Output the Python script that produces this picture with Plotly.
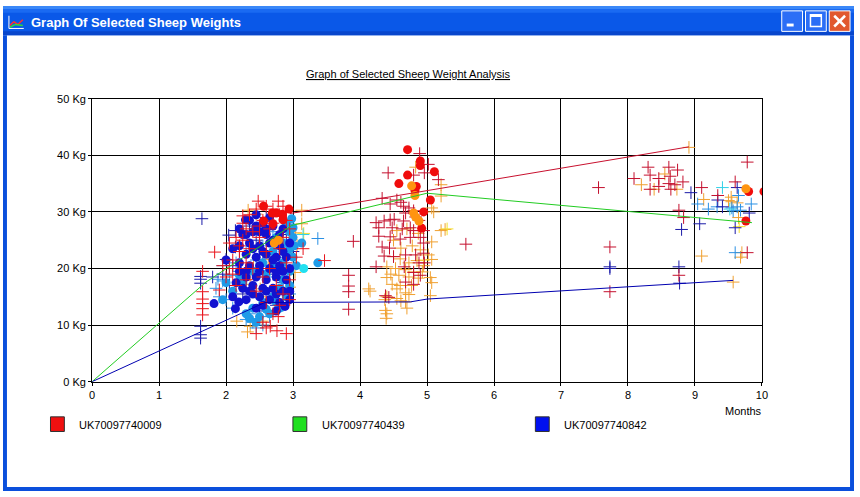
import plotly.graph_objects as go

# ---- data (months, kg) ----
red_line_x = [2.95, 8.91]
red_line_y = [29.7, 41.5]
green_line_x = [0, 1.7, 2.98, 5.0, 9.85]
green_line_y = [0, 17.6, 27.6, 33.3, 28.1]
blue_line_x = [0, 2.58, 4.75, 5.0, 9.57]
blue_line_y = [0, 14.0, 14.1, 14.6, 17.9]

red_cross = [(1.65, 19.5), (1.65, 14.6), (1.65, 13.8), (1.65, 12.9), (1.65, 11.8), (1.65, 15.9),
             (1.83, 22.9), (1.9, 16.2), (1.95, 20.5), (2.05, 20.0), (2.1, 21.5), (2.05, 24.5),
             (2.15, 25.5), (2.2, 23.0), (2.25, 25.0), (2.25, 28.0), (2.25, 29.3), (2.3, 27.0),
             (2.35, 29.5), (2.45, 30.5), (2.48, 31.9), (2.6, 31.0), (2.7, 30.5), (2.78, 31.9),
             (2.85, 31.0), (2.9, 30.0), (2.4, 26.5), (2.5, 27.5), (2.55, 28.5), (2.65, 27.0),
             (2.7, 28.0), (2.8, 29.5), (2.9, 28.5), (2.95, 27.0), (2.2, 24.0), (2.3, 21.0),
             (2.1, 19.0), (2.0, 18.5), (2.15, 17.0), (2.3, 18.0), (2.45, 16.0), (2.55, 18.5),
             (2.65, 20.0), (2.75, 17.0), (2.85, 15.5), (2.95, 18.0), (2.7, 12.0), (2.78, 11.5),
             (2.66, 9.8), (2.76, 9.0), (2.55, 10.5), (2.45, 8.5), (2.6, 9.5), (3.05, 22.0),
             (2.35, 23.5), (2.5, 25.5), (2.6, 23.0), (2.8, 23.5), (2.85, 25.5), (2.9, 21.0),
             (2.4, 20.0), (2.2, 20.0), (2.6, 14.0), (2.8, 13.5), (3.15, 23.5), (2.95, 14.5),
             (3.47, 21.4), (2.9, 8.5)]

crimson_cross = [(3.83, 18.8), (3.83, 16.9), (3.83, 15.9), (3.83, 12.8), (3.9, 24.8),
                 (4.89, 40.3), (5.02, 38.4), (4.42, 36.9), (4.80, 36.5), (4.96, 36.9), (5.17, 35.7),
                 (4.33, 32.4), (4.45, 31.4), (4.55, 32.1), (4.61, 31.7), (4.65, 31.0), (4.73, 30.7),
                 (4.80, 30.2), (4.68, 29.8), (4.83, 29.1), (4.88, 28.5), (4.24, 28.1), (4.36, 28.4),
                 (4.45, 28.6), (4.51, 28.7), (4.28, 27.2), (4.48, 27.2), (4.65, 28.4), (4.63, 27.0),
                 (4.75, 27.2), (4.80, 26.7), (4.95, 26.7), (4.28, 25.7), (4.45, 25.6), (4.60, 25.2),
                 (4.75, 25.5), (4.90, 25.5), (4.95, 24.5), (4.33, 23.8), (4.44, 23.6), (4.50, 22.1),
                 (4.68, 22.4), (4.83, 22.4), (4.95, 22.7), (4.36, 22.2), (4.24, 20.3), (4.66, 20.3),
                 (4.88, 21.0), (4.96, 21.0), (4.80, 19.3), (4.90, 18.8), (4.68, 17.6), (4.80, 17.2),
                 (4.38, 15.2), (4.43, 14.9), (5.58, 24.3),
                 (9.78, 38.8), (8.30, 37.9), (8.61, 37.9), (8.74, 37.4), (8.33, 36.5), (8.46, 35.9),
                 (8.63, 36.3), (8.09, 35.9), (8.82, 35.3), (8.61, 35.0), (8.70, 34.8), (9.10, 34.3),
                 (9.60, 35.3), (8.33, 34.0), (8.46, 34.5), (8.64, 34.0), (7.56, 34.3), (9.34, 32.9),
                 (8.76, 30.3), (8.83, 29.0), (7.73, 23.8), (8.76, 18.8), (9.78, 22.8), (7.73, 15.9)]

orange_cross = [(2.33, 30.3), (2.45, 29.6), (3.13, 30.3), (3.13, 27.9), (3.04, 26.3), (2.29, 17.2),
                (2.36, 18.1), (2.51, 16.4), (2.95, 16.7), (2.56, 15.0), (2.16, 10.7), (2.32, 8.8),
                (2.36, 9.8), (2.54, 10.7), (2.50, 21.6), (2.63, 21.6), (2.41, 20.2), (2.95, 24.0),
                (2.91, 22.6), (3.06, 24.1), (3.03, 19.3),
                (4.55, 26.7), (4.70, 27.0), (4.87, 26.2), (5.07, 24.7), (5.21, 26.7), (4.50, 25.0),
                (4.61, 23.6), (4.78, 24.0), (4.90, 23.3), (5.02, 22.4), (5.07, 21.6), (4.50, 22.1),
                (4.60, 21.7), (4.73, 21.0), (4.85, 21.4), (4.40, 20.3), (4.53, 20.0), (4.68, 19.8),
                (4.80, 19.4), (4.93, 19.4), (4.46, 19.0), (4.58, 18.8), (4.73, 18.5), (4.87, 18.3),
                (4.40, 18.4), (4.48, 17.2), (4.60, 17.0), (4.77, 17.0), (4.55, 16.4), (4.68, 15.7),
                (4.13, 16.4), (4.40, 15.0), (4.55, 14.7), (4.73, 15.4), (5.05, 15.2), (4.68, 14.1),
                (4.38, 12.6), (4.70, 13.0), (5.05, 18.4), (5.07, 17.5), (4.95, 20.5), (4.83, 37.9),
                (5.21, 34.8), (5.21, 32.8), (5.07, 30.7), (5.10, 30.0), (5.27, 26.9), (4.15, 16.0),
                (4.37, 14.5), (4.61, 14.3), (4.40, 12.0), (4.39, 11.2),
                (8.91, 41.4), (8.55, 36.7), (8.20, 34.8), (8.39, 34.0), (8.73, 34.0), (9.13, 32.2),
                (9.54, 32.6), (9.50, 32.0), (9.55, 31.8), (9.63, 31.6), (9.65, 29.0), (9.10, 22.2),
                (9.70, 22.8), (9.68, 22.0), (9.57, 17.6)]

yellow_cross = [(3.16, 26.2), (2.75, 19.5), (5.30, 27.0), (9.66, 27.4), (4.95, 21.5)]

navy_cross = [(1.64, 28.8), (1.62, 18.6), (1.62, 18.1), (1.62, 17.4), (1.62, 9.8), (1.62, 8.3),
              (1.62, 7.7), (2.04, 25.9), (2.14, 26.7), (2.14, 23.8), (2.0, 21.6), (2.1, 20.5),
              (2.2, 23.0), (2.35, 27.5), (2.45, 25.0), (2.55, 22.5), (2.7, 19.0), (2.85, 17.5),
              (2.75, 13.5), (2.5, 12.5), (2.25, 15.5), (2.05, 17.0), (1.8, 18.5), (1.95, 19.0),
              (2.9, 26.0), (2.6, 29.0), (3.0, 23.0),
              (8.94, 33.4), (9.63, 34.3), (9.34, 32.1), (9.41, 30.9), (9.81, 29.8), (9.07, 27.9),
              (8.80, 26.9), (9.60, 27.2), (7.73, 20.3), (7.73, 20.0), (8.76, 20.3), (8.77, 17.4)]

sky_cross = [(3.37, 25.3), (1.95, 17.8), (1.88, 18.1), (2.19, 17.6), (1.85, 16.5), (1.9, 15.0),
             (2.0, 14.5), (2.1, 13.0), (2.3, 11.0), (2.4, 10.5), (2.45, 9.5), (2.35, 12.0),
             (2.55, 10.0), (2.65, 11.5), (2.85, 13.5), (2.95, 15.5), (2.6, 18.5), (2.75, 20.0),
             (2.45, 21.5), (2.3, 23.0), (2.55, 24.0), (2.7, 26.5), (2.8, 22.0), (2.2, 19.5),
             (2.05, 18.8), (1.95, 20.5), (2.15, 21.0),
             (9.04, 31.4), (9.20, 30.5), (9.33, 30.9), (9.55, 30.7), (9.63, 30.9), (9.68, 30.3),
             (9.84, 31.4), (9.60, 22.8), (9.65, 32.9), (9.57, 30.2)]

cyan_cross = [(9.41, 34.3), (9.52, 30.5), (3.15, 26.0)]

blue_dot = [(2.35, 28.5), (2.55, 28.0), (2.7, 27.5), (2.25, 26.0), (2.4, 26.5), (2.6, 26.0),
            (2.8, 26.0), (2.2, 24.0), (2.35, 24.5), (2.5, 24.0), (2.65, 24.5), (2.8, 24.0),
            (2.95, 24.5), (2.3, 22.5), (2.45, 22.0), (2.6, 22.5), (2.75, 22.0), (2.9, 22.0),
            (2.2, 21.0), (2.35, 20.5), (2.5, 20.5), (2.65, 20.0), (2.8, 20.5), (2.95, 20.0),
            (2.3, 18.5), (2.45, 18.5), (2.6, 18.0), (2.75, 18.5), (2.9, 18.0), (2.25, 16.5),
            (2.4, 17.0), (2.55, 16.5), (2.7, 16.5), (2.85, 16.0), (2.1, 15.0), (2.3, 14.5),
            (2.5, 15.0), (2.65, 14.5), (2.8, 14.0), (2.95, 14.5), (2.88, 13.3), (2.75, 12.5),
            (2.19, 14.1), (2.14, 12.9), (1.82, 13.8), (2.45, 13.0), (2.6, 27.0), (2.5, 26.5),
            (2.0, 21.5), (2.1, 23.5), (2.29, 28.6),
            (2.3, 26.0), (2.45, 27.5), (2.85, 27.0), (2.4, 23.5), (2.55, 23.0), (2.7, 25.0),
            (2.85, 23.0), (2.3, 19.5), (2.5, 19.5), (2.7, 21.5), (2.85, 19.5), (2.4, 15.5),
            (2.6, 16.0), (2.75, 15.5), (2.35, 16.0), (2.55, 13.5), (2.2, 19.5), (2.15, 17.5),
            (2.95, 16.0), (2.65, 29.0), (2.45, 29.5), (2.2, 27.0), (2.75, 19.5)]

light_blue_dot = [(2.9, 28.0), (2.95, 26.5), (3.0, 25.5), (2.95, 23.5), (3.0, 22.0), (2.85, 21.0),
                  (2.95, 19.5), (2.85, 18.0), (2.95, 17.0), (2.8, 16.5), (2.7, 15.0), (2.55, 14.0),
                  (2.4, 13.0), (2.3, 12.0), (2.5, 11.5), (2.65, 12.0), (2.45, 10.5), (2.1, 16.0),
                  (2.0, 17.5), (2.25, 17.5), (2.4, 19.5), (2.55, 21.0), (2.7, 23.0), (2.75, 25.5),
                  (2.6, 19.0), (2.7, 20.5), (2.2, 18.8), (3.37, 21.0), (3.13, 24.5), (3.0, 27.2),
                  (2.85, 24.5), (2.9, 22.5), (1.95, 14.5),
                  (2.98, 28.8), (3.02, 24.0), (2.9, 15.0), (2.6, 12.8), (2.35, 11.2), (2.8, 13.0),
                  (3.05, 20.5), (2.75, 14.0)]

cyan_dot = [(3.16, 20.0)]

red_dot = [(2.56, 31.0), (2.69, 29.8), (2.75, 29.8), (2.94, 30.5), (2.84, 29.6), (2.56, 28.4),
           (2.85, 28.6), (2.70, 27.9),
           (4.71, 41.0), (4.90, 39.0), (4.90, 38.2), (5.11, 37.1), (4.71, 36.5), (4.58, 35.0),
           (4.84, 34.5), (4.82, 33.8), (5.05, 32.1), (4.95, 30.0), (4.92, 27.1),
           (9.80, 33.6), (10.03, 33.6), (9.76, 28.4)]

orange_dot = [(2.78, 25.0), (2.72, 24.5), (4.77, 34.6), (4.82, 32.9), (4.80, 29.8), (4.83, 29.1),
              (4.88, 28.4), (9.76, 34.1)]

legend_names = ["UK70097740009", "UK70097740439", "UK70097740842"]
legend_colors = ["#f01010", "#20e020", "#0010f0"]

W, H = 860, 497


def px(x):
    return x / W


def py(y):
    return 1 - y / H


fig = go.Figure()


def dots(pts, color):
    fig.add_trace(go.Scatter(x=[p[0] for p in pts], y=[p[1] for p in pts], mode="markers",
                             marker=dict(symbol="circle", size=9, color=color, line=dict(width=0)),
                             hoverinfo="skip"))


def crosses(pts, color):
    fig.add_trace(go.Scatter(x=[p[0] for p in pts], y=[p[1] for p in pts], mode="markers",
                             marker=dict(symbol="cross-thin", size=9, color=color,
                                         line=dict(width=1, color=color)),
                             hoverinfo="skip"))


crosses(orange_cross, "#f0a030")
crosses(yellow_cross, "#f4e030")
crosses(sky_cross, "#2a90e4")
crosses(cyan_cross, "#30d0e8")
crosses(navy_cross, "#1a1aa8")
crosses(crimson_cross, "#c4102e")
dots(light_blue_dot, "#1e9be8")
dots(blue_dot, "#1212d0")
dots(cyan_dot, "#22e0f0")
crosses(red_cross, "#e8141c")
dots(red_dot, "#f00c0c")
dots(orange_dot, "#ff9410")

fig.add_trace(go.Scatter(x=red_line_x, y=red_line_y, mode="lines", line=dict(color="#c8102e", width=1)))
fig.add_trace(go.Scatter(x=green_line_x, y=green_line_y, mode="lines", line=dict(color="#22cc22", width=1)))
fig.add_trace(go.Scatter(x=blue_line_x, y=blue_line_y, mode="lines", line=dict(color="#0000b0", width=1)))

# ---- window frame ----
shapes = []
ann = []


def rect(x0, y0, x1, y1, fill, line=None, lw=0):
    shapes.append(dict(type="rect", xref="paper", yref="paper", x0=px(x0), x1=px(x1),
                       y0=py(y0), y1=py(y1), fillcolor=fill,
                       line=dict(color=line or fill, width=lw)))


def seg(x0, y0, x1, y1, color, w=1):
    shapes.append(dict(type="line", xref="paper", yref="paper", x0=px(x0), x1=px(x1),
                       y0=py(y0), y1=py(y1), line=dict(color=color, width=w)))


rect(0, 0, W, 30, "#0a58e8")
rect(0, 0, W, 3, "#3a88f8")
rect(0, 3, W, 7, "#1a6af2")
rect(0, 26, W, 30, "#0846cc")
rect(0, 30, 4, H, "#0a4fdc")
rect(W - 4, 30, W, H, "#0a4fdc")
rect(0, H - 4, W, H, "#0a4fdc")

# buttons
rect(787, 5, 808, 26, "#2b6ef6", "#ffffff", 1)
rect(811, 5, 832, 26, "#2b6ef6", "#ffffff", 1)
rect(835, 5, 856, 26, "#e1582e", "#ffffff", 1)
rect(792, 18, 799, 21, "#ffffff")
rect(816, 9, 827, 21, "rgba(0,0,0,0)", "#ffffff", 1.5)
seg(816, 10, 827, 10, "#ffffff", 2.5)
seg(840, 10, 851, 21, "#ffffff", 2.5)
seg(851, 10, 840, 21, "#ffffff", 2.5)

# icon
seg(6, 10, 6, 23, "#ffffff", 1)
seg(6, 23, 21, 23, "#ffffff", 1)
seg(7, 20, 11, 16, "#ff3030", 1.5)
seg(11, 16, 15, 19, "#ff3030", 1.5)
seg(15, 19, 20, 14, "#ff3030", 1.5)
seg(7, 22, 12, 19, "#30e030", 1.5)
seg(12, 19, 20, 20, "#30e030", 1.5)

ann.append(dict(x=px(26), y=py(17), xref="paper", yref="paper", xanchor="left", yanchor="middle",
                text="Graph Of Selected Sheep Weights", showarrow=False,
                font=dict(family="Liberation Sans", size=13, color="#ffffff", weight="bold")))

ann.append(dict(x=px(410), y=py(70), xref="paper", yref="paper", xanchor="center", yanchor="middle",
                text="<u>Graph of Selected Sheep Weight Analysis</u>", showarrow=False,
                font=dict(family="Liberation Sans", size=11, color="#000000")))

ann.append(dict(x=px(769), y=py(415), xref="paper", yref="paper", xanchor="right", yanchor="middle",
                text="Months", showarrow=False,
                font=dict(family="Liberation Sans", size=11, color="#000000")))

# legend
for i, (name, col) in enumerate(zip(legend_names, legend_colors)):
    lx = 48 + i * 245
    rect(lx, 421, lx + 14, 436, col, "#303030", 1)
    ann.append(dict(x=px(lx + 27), y=py(429), xref="paper", yref="paper", xanchor="left",
                    yanchor="middle", text=name, showarrow=False,
                    font=dict(family="Liberation Sans", size=11, color="#000000")))

fig.update_layout(
    autosize=True, margin=dict(l=0, r=0, t=0, b=0),
    paper_bgcolor="#ffffff", plot_bgcolor="#ffffff", showlegend=False,
    shapes=shapes, annotations=ann,
    font=dict(family="Liberation Sans", size=11, color="#000000"),
    xaxis=dict(domain=[px(90), px(767)], range=[0, 10], dtick=1, tick0=0,
               showgrid=True, gridcolor="#000000", gridwidth=1,
               showline=True, linecolor="#000000", linewidth=1, mirror=True,
               zeroline=False, ticks="outside", ticklen=3, tickcolor="#000000",
               tickfont=dict(size=11, color="#000000")),
    yaxis=dict(domain=[py(385), py(95)], range=[0, 50], dtick=10, tick0=0,
               ticksuffix=" Kg", showgrid=True, gridcolor="#000000", gridwidth=1,
               showline=True, linecolor="#000000", linewidth=1, mirror=True,
               zeroline=False, ticks="outside", ticklen=3, tickcolor="#000000",
               tickfont=dict(size=11, color="#000000")),
)

# pin the figure to the whole window so it fills the photograph
pin = ("document.documentElement.style.margin='0';document.body.style.margin='0';"
       "document.body.style.padding='0';document.body.style.overflow='hidden';"
       "var d=document.getElementById('{plot_id}');"
       "d.style.position='fixed';d.style.left='0px';d.style.top='0px';"
       "d.style.width='100vw';d.style.height='100vh';"
       "Plotly.Plots.resize(d);")

fig.write_html("out.html", config={"displayModeBar": False, "responsive": True},
               default_width="100%", default_height="100%", post_script=pin)
